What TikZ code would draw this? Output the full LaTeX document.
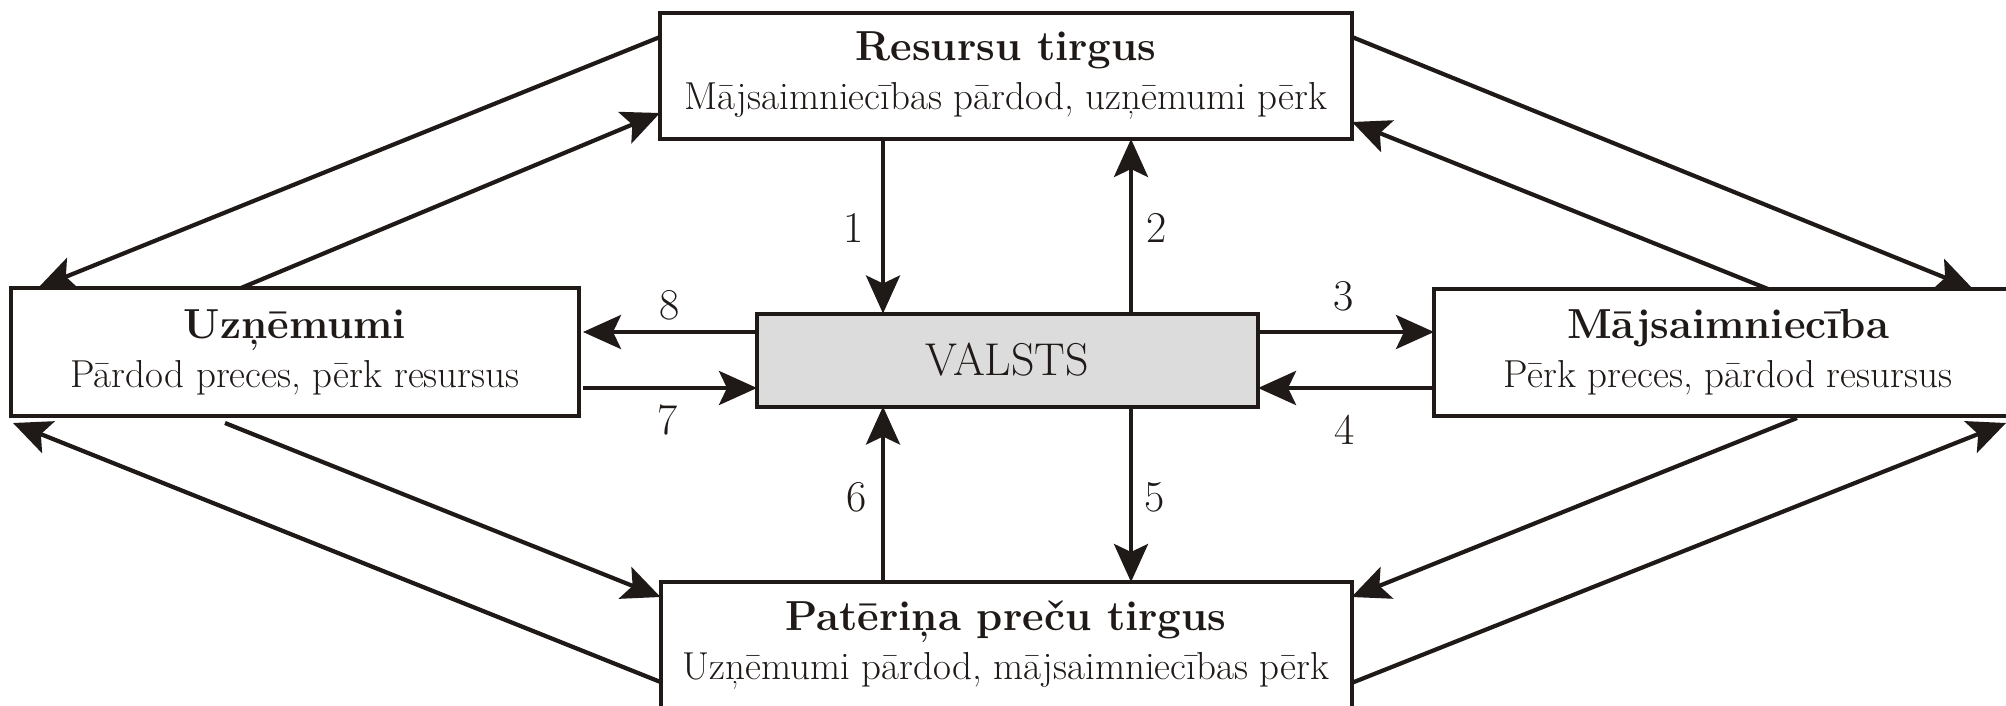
\documentclass[tikz,border=0pt]{standalone}
\usepackage{fontspec}
\usetikzlibrary{arrows.meta,calc}
\definecolor{ink}{HTML}{1F1A17}
\definecolor{valfill}{HTML}{DCDCDC}
\newcommand\boxtitle[1]{{\fontsize{21}{24.5}\selectfont\bfseries #1}}
\begin{document}
\begin{tikzpicture}[x=0.5pt,y=-0.5pt,
  box/.style={draw=ink, line width=2pt, fill=white, inner sep=0pt, outer sep=0pt,
    align=center, text=ink, font=\fontsize{19.5}{24.5}\selectfont},
  arr/.style={draw=ink, line width=2.1pt, -{Stealth[length=19pt,width=17pt,inset=4pt]}},
  num/.style={text=ink, font=\fontsize{22}{26}\selectfont, inner sep=0pt}]
\useasboundingbox (0,0) rectangle (2006,706);
\clip (0,0) rectangle (2006,706);

% boxes
\node[box, minimum width=346pt, minimum height=63pt] (res) at (1006,76)
  {\boxtitle{Resursu tirgus}\\Mājsaimniecības pārdod, uzņēmumi pērk};
\node[box, fill=valfill, minimum width=250.5pt, minimum height=46.5pt,
  font=\fontsize{23}{26}\selectfont] (val) at (1007.5,360) {VALSTS};
\node[box, minimum width=284pt, minimum height=64pt] (uzn) at (295,352)
  {\boxtitle{Uzņēmumi}\\Pārdod preces, pērk resursus};
\node[box, minimum width=294pt, minimum height=63.5pt] (maj) at (1728,352.5)
  {\boxtitle{Mājsaimniecība}\\Pērk preces, pārdod resursus};
\node[box, minimum width=345.5pt, minimum height=63pt] (pat) at (1006,645)
  {\boxtitle{Patēriņa preču tirgus}\\Uzņēmumi pārdod, mājsaimniecības pērk};

% helper coordinates for connector lanes
\coordinate (xL) at (883,0);
\coordinate (xR) at (1131,0);
\coordinate (yU) at (0,332);
\coordinate (yD) at (0,388);

% vertical arrows
\draw[arr] (res.south -| xL) -- (val.north -| xL);
\draw[arr] (val.north -| xR) -- (res.south -| xR);
\draw[arr] (pat.north -| xL) -- (val.south -| xL);
\draw[arr] (val.south -| xR) -- (pat.north -| xR);

% horizontal arrows
\draw[arr, shorten >=2pt] (val.west |- yU) -- (uzn.east |- yU);
\draw[arr, shorten <=2pt] (uzn.east |- yD) -- (val.west |- yD);
\draw[arr] (val.east |- yU) -- (maj.west |- yU);
\draw[arr] (maj.west |- yD) -- (val.east |- yD);

% diagonal arrows
\draw[arr] ([yshift=-12pt]res.north west) -- ([xshift=13.5pt]uzn.north west);
\draw[arr] ([xshift=115pt]uzn.north west) -- ([yshift=13pt]res.south west);
\draw[arr] ([yshift=-12pt]res.north east) -- ([xshift=269.5pt]maj.north west);
\draw[arr] ([xshift=167pt]maj.north west) -- ([yshift=8.5pt]res.south east);
\draw[arr] ([xshift=107pt,yshift=-3.5pt]uzn.south west) -- ([yshift=-7.5pt]pat.north west);
\draw[arr] ([yshift=-50pt]pat.north west) -- ([xshift=1pt,yshift=-3.5pt]uzn.south west);
\draw[arr] ([xshift=181.5pt,yshift=-1pt]maj.south west) -- ([yshift=-7.5pt]pat.north east);
\draw[arr] ([yshift=-50.5pt]pat.north east) -- ([xshift=286pt,yshift=-3.5pt]maj.south west);

% numbers
\node[num] (n1) at (854,228) {1};
\node[num] (n2) at (1157,228) {2};
\node[num] (n3) at (1344,296) {3};
\node[num] (n4) at (1345,430) {4};
\node[num] (n5) at (1155,497) {5};
\node[num] (n6) at (857,497) {6};
\node[num] (n7) at (668,420) {7};
\node[num] (n8) at (670,305) {8};
\end{tikzpicture}
\end{document}
